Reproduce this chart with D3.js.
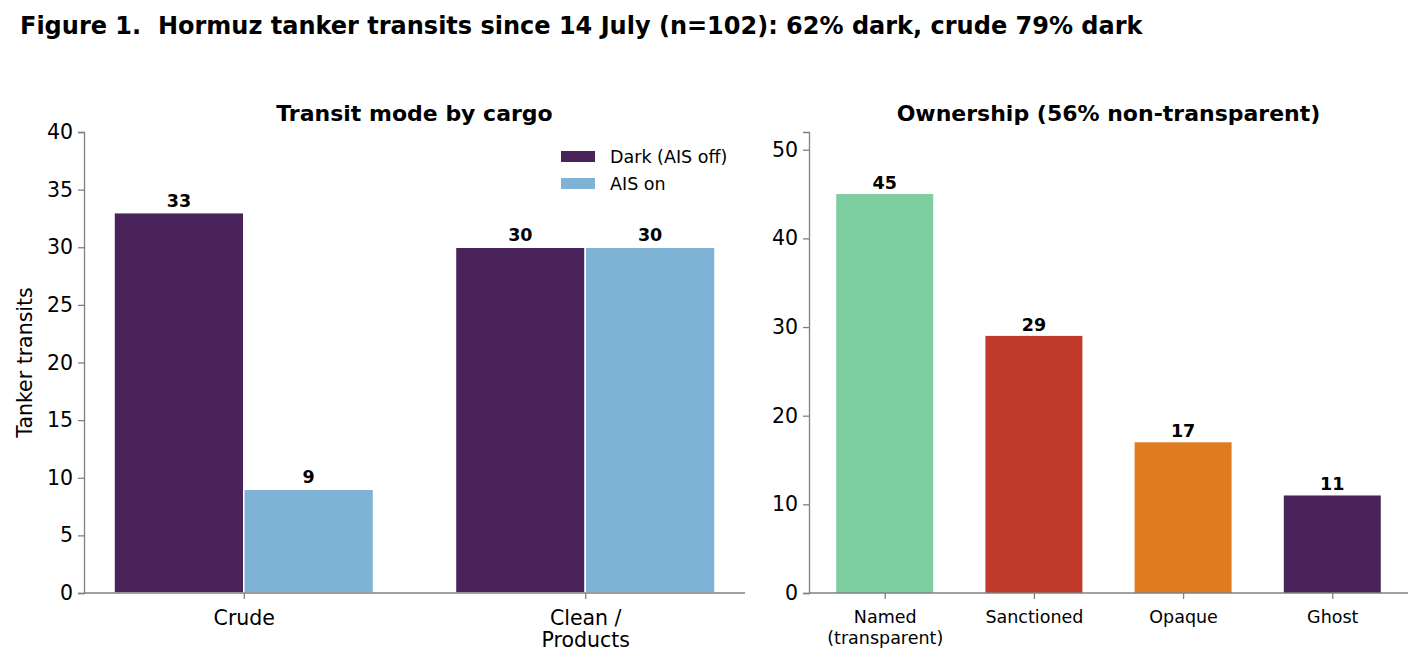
<!DOCTYPE html>
<html>
<head>
<meta charset="utf-8">
<script src="https://cdnjs.cloudflare.com/ajax/libs/d3/7.8.5/d3.min.js"></script>
<style>
 body { margin: 0; background: #fff; }
 svg text { font-family: "DejaVu Sans", sans-serif; }
</style>
</head>
<body>
<div id="chart"></div>
<script>
// data
var cargoTypes = ["Crude", "Clean /\nProducts"];
var darkCounts = [33, 30];
var aisOnCounts = [9, 30];
var modeSeries = ["Dark (AIS off)", "AIS on"];
var leftTicks = [0, 5, 10, 15, 20, 25, 30, 35, 40];

var ownerTypes = ["Named\n(transparent)", "Sanctioned", "Opaque", "Ghost"];
var ownerCounts = [45, 29, 17, 11];
var rightTicks = [0, 10, 20, 30, 40, 50];

var w = 1424, h = 666;
var darkCol = "#4a235a", aisCol = "#7fb3d5";
var ownerCols = ["#7dcea0", "#c0392b", "#e07b1f", "#4a235a"];
var axisCol = "#808080";
var tickFs = 20.5, valFs = 17.5;

var svg = d3.select("#chart").append("svg").attr("width", w).attr("height", h);

svg.append("text")
  .attr("x", 20).attr("y", 34)
  .attr("font-size", 24).attr("font-weight", "bold")
  .style("white-space", "pre")
  .text("Figure 1.  Hormuz tanker transits since 14 July (n=102): 62% dark, crude 79% dark");

function styleAxis(g) {
  g.selectAll(".domain").attr("stroke", axisCol).attr("stroke-width", 1.3);
  g.selectAll(".tick line").attr("stroke", axisCol).attr("stroke-width", 1.3);
  g.selectAll(".tick text").attr("fill", "#000");
}

function multiline(sel, lh) {
  sel.each(function() {
    var t = d3.select(this);
    var lines = t.text().split("\n");
    t.text(null);
    lines.forEach(function(l, i) {
      t.append("tspan").attr("x", 0).attr("dy", i == 0 ? "0.71em" : lh).text(l);
    });
  });
}

// ---- left panel
var L = {x0: 84, x1: 745, y0: 132, y1: 593};
var bw = 0.38;
var xl = d3.scaleLinear().domain([-0.468, 1.468]).range([L.x0, L.x1]);
var yl = d3.scaleLinear().domain([0, 40]).range([L.y1, L.y0]);

var left = svg.append("g");
var leftData = [];
cargoTypes.forEach(function(c, i) {
  leftData.push({i: i, v: darkCounts[i], off: -bw / 2, col: darkCol});
  leftData.push({i: i, v: aisOnCounts[i], off: bw / 2, col: aisCol});
});

left.selectAll("rect").data(leftData).enter().append("rect")
  .attr("x", function(d) { return xl(d.i + d.off - bw / 2); })
  .attr("width", function(d) { return xl(bw) - xl(0); })
  .attr("y", function(d) { return yl(d.v); })
  .attr("height", function(d) { return yl(0) - yl(d.v); })
  .attr("fill", function(d) { return d.col; })
  .attr("stroke", "#fff").attr("stroke-width", 1.5);

left.selectAll(".val").data(leftData).enter().append("text")
  .attr("x", function(d) { return xl(d.i + d.off); })
  .attr("y", function(d) { return yl(d.v) - 6; })
  .attr("text-anchor", "middle").attr("font-size", valFs).attr("font-weight", "bold")
  .text(function(d) { return d.v; });

var lya = left.append("g").attr("transform", "translate(" + L.x0 + ",0)")
  .call(d3.axisLeft(yl).tickValues(leftTicks).tickSize(6).tickPadding(5));
lya.selectAll(".tick text").attr("font-size", tickFs);
styleAxis(lya);

var lxa = left.append("g").attr("transform", "translate(0," + L.y1 + ")")
  .call(d3.axisBottom(xl).tickValues([0, 1]).tickSize(6).tickPadding(11)
    .tickFormat(function(d) { return cargoTypes[d]; }));
lxa.select(".domain").attr("d", "M" + L.x0 + ",0H" + L.x1);
lxa.selectAll(".tick text").attr("font-size", tickFs).call(multiline, "1.1em");
styleAxis(lxa);

left.append("text")
  .attr("transform", "translate(32," + ((L.y0 + L.y1) / 2) + ") rotate(-90)")
  .attr("text-anchor", "middle").attr("font-size", tickFs)
  .text("Tanker transits");

left.append("text")
  .attr("x", (L.x0 + L.x1) / 2).attr("y", 121)
  .attr("text-anchor", "middle").attr("font-size", 22).attr("font-weight", "bold")
  .text("Transit mode by cargo");

var leg = left.append("g").attr("transform", "translate(561,151)");
modeSeries.forEach(function(s, i) {
  leg.append("rect").attr("x", 0).attr("y", i * 27).attr("width", 34).attr("height", 11)
    .attr("fill", i == 0 ? darkCol : aisCol);
  leg.append("text").attr("x", 49).attr("y", i * 27 + 12).attr("font-size", 17.5).text(s);
});

// ---- right panel
var R = {x0: 809, x1: 1408, y0: 132, y1: 593};
var rw = 0.65;
var xr = d3.scaleLinear().domain([-0.5075, 3.5075]).range([R.x0, R.x1]);
var yr = d3.scaleLinear().domain([0, 52]).range([R.y1, R.y0]);

var right = svg.append("g");
right.selectAll("rect").data(ownerCounts).enter().append("rect")
  .attr("x", function(d, i) { return xr(i - rw / 2); })
  .attr("width", xr(rw) - xr(0))
  .attr("y", function(d) { return yr(d); })
  .attr("height", function(d) { return yr(0) - yr(d); })
  .attr("fill", function(d, i) { return ownerCols[i]; });

right.selectAll(".val").data(ownerCounts).enter().append("text")
  .attr("x", function(d, i) { return xr(i); })
  .attr("y", function(d) { return yr(d) - 5; })
  .attr("text-anchor", "middle").attr("font-size", valFs).attr("font-weight", "bold")
  .text(function(d) { return d; });

var rya = right.append("g").attr("transform", "translate(" + R.x0 + ",0)")
  .call(d3.axisLeft(yr).tickValues(rightTicks).tickSize(6).tickPadding(5));
rya.selectAll(".tick text").attr("font-size", tickFs);
styleAxis(rya);

var rxa = right.append("g").attr("transform", "translate(0," + R.y1 + ")")
  .call(d3.axisBottom(xr).tickValues([0, 1, 2, 3]).tickSize(6).tickPadding(12)
    .tickFormat(function(d) { return ownerTypes[d]; }));
rxa.select(".domain").attr("d", "M" + R.x0 + ",0H" + R.x1);
rxa.selectAll(".tick text").attr("font-size", 17.5).call(multiline, "1.2em");
styleAxis(rxa);

right.append("text")
  .attr("x", (R.x0 + R.x1) / 2).attr("y", 121)
  .attr("text-anchor", "middle").attr("font-size", 22).attr("font-weight", "bold")
  .text("Ownership (56% non-transparent)");
</script>
</body>
</html>
